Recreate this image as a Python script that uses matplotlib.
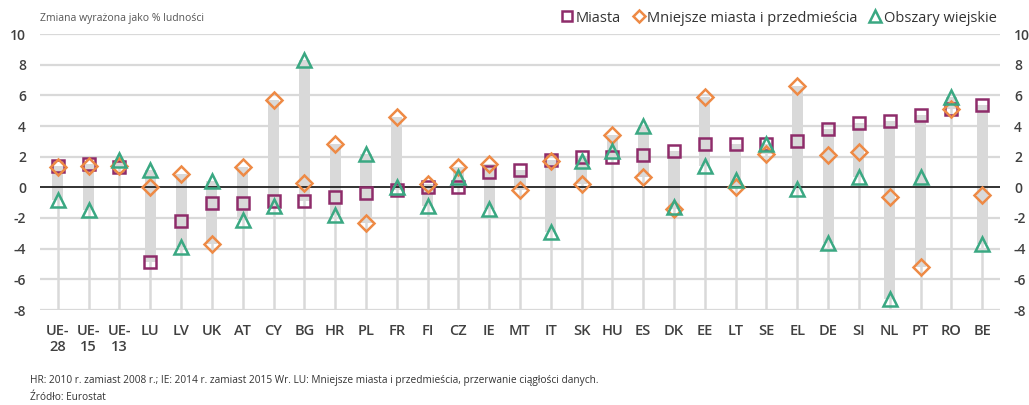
import matplotlib
matplotlib.use("Agg")
import matplotlib.pyplot as plt
import numpy as np
from matplotlib.lines import Line2D

plt.rcParams['font.family'] = ['Open Sans', 'DejaVu Sans']
plt.rcParams['axes.unicode_minus'] = False

categories = ["UE-\n28", "UE-\n15", "UE-\n13", "LU", "LV", "UK", "AT", "CY", "BG", "HR",
              "PL", "FR", "FI", "CZ", "IE", "MT", "IT", "SK", "HU", "ES", "DK", "EE",
              "LT", "SE", "EL", "DE", "SI", "NL", "PT", "RO", "BE"]
miasta = [1.4, 1.5, 1.3, -4.9, -2.2, -1.0, -1.0, -0.9, -0.9, -0.6,
          -0.4, -0.2, 0.0, 0.0, 1.0, 1.1, 1.8, 2.0, 2.0, 2.1, 2.4, 2.8,
          2.8, 2.8, 3.0, 3.8, 4.2, 4.3, 4.7, 5.1, 5.4]
mniejsze = [1.3, 1.4, 1.4, 0.0, 0.9, -3.7, 1.3, 5.7, 0.3, 2.8,
            -2.3, 4.6, 0.2, 1.3, 1.5, -0.2, 1.7, 0.2, 3.4, 0.7, -1.4, 5.9,
            0.0, 2.2, 6.6, 2.1, 2.3, -0.6, -5.2, 5.1, -0.5]
wiejskie = [-0.8, -1.5, 1.8, 1.1, -3.9, 0.4, -2.1, -1.2, 8.3, -1.8,
            2.2, 0.0, -1.2, 0.7, -1.4, np.nan, -2.9, 1.7, 2.4, 4.0, -1.3, 1.4,
            0.5, 2.8, -0.1, -3.6, 0.7, -7.3, 0.7, 5.9, -3.7]
yticks = [-8, -6, -4, -2, 0, 2, 4, 6, 8, 10]

c_sq = '#8e2c6a'
c_di = '#ee8a45'
c_tr = '#3aa882'
c_bar = '#d9d9d9'
c_txt = '#404040'

fig = plt.figure(figsize=(10.29, 4.05), dpi=100)
ax = fig.add_axes([40/1029, 1-310/405, 960/1029, 276/405])

x = np.arange(len(categories))
vals = np.array([miasta, mniejsze, wiejskie], dtype=float)
vmax = np.nanmax(vals, axis=0)
vmin = np.nanmin(vals, axis=0)

ax.set_xlim(-0.58, len(categories) - 1 + 0.58)
ax.set_ylim(-8, 10)

for yv in yticks:
    if yv != 0:
        ax.axhline(yv, color=c_bar, lw=1.6, zorder=0)
# thin drop lines
ax.vlines(x, -8, vmax, color=c_bar, lw=1.8, zorder=1)
# range bars
ax.bar(x, vmax - vmin, bottom=vmin, width=0.36, color=c_bar, zorder=1)
ax.axhline(0, color='#222222', lw=1.3, zorder=2)

ms = dict(markerfacecolor='none', linestyle='none', markeredgewidth=1.8)
ax.plot(x, miasta, marker='s', markersize=8, markeredgecolor=c_sq, zorder=3, **ms)
ax.plot(x, mniejsze, marker='D', markersize=8.5, markeredgecolor=c_di, zorder=3, **ms)
ax.plot(x, wiejskie, marker='^', markersize=10.5, markeredgecolor=c_tr, zorder=3, **ms)

for s in ax.spines.values():
    s.set_visible(False)
ax.set_yticks(yticks)
ax.set_yticklabels([str(v) for v in yticks])
ax.tick_params(axis='y', length=0, labelleft=True, labelright=True, pad=10,
               labelsize=10, labelcolor=c_txt)
ax.set_xticks(x)
ax.set_xticklabels(categories, linespacing=1.15)
ax.tick_params(axis='x', length=0, pad=10, labelsize=10.5, labelcolor=c_txt)
for lab in ax.get_xticklabels() + ax.get_yticklabels():
    lab.set_fontweight('semibold')

fig.text(40/1029, 1-18/405, "Zmiana wyrażona jako % ludności", fontsize=7.5,
         color='#555555', va='center', ha='left')

handles = [Line2D([], [], marker='s', markersize=7, markeredgecolor=c_sq, **ms),
           Line2D([], [], marker='D', markersize=6, markeredgecolor=c_di, **ms),
           Line2D([], [], marker='^', markersize=8, markeredgecolor=c_tr, **ms)]
fig.legend(handles, ["Miasta", "Mniejsze miasta i przedmieścia", "Obszary wiejskie"],
           loc='center right', bbox_to_anchor=(997/1029, 1-18/405), ncol=3,
           frameon=False, fontsize=10.5, handlelength=0.8, handletextpad=0.2,
           columnspacing=0.8, labelcolor='#333333', borderpad=0, borderaxespad=0)

fig.text(30/1029, 1-380/405,
         "HR: 2010 r. zamiast 2008 r.; IE: 2014 r. zamiast 2015 Wr. LU: Mniejsze miasta i przedmieścia, przerwanie ciągłości danych.",
         fontsize=7.3, color='#333333', va='center', ha='left')
fig.text(30/1029, 1-398/405, "Źródło: Eurostat", fontsize=7.3, color='#333333',
         va='center', ha='left')

fig.savefig("out.png", dpi=100)
